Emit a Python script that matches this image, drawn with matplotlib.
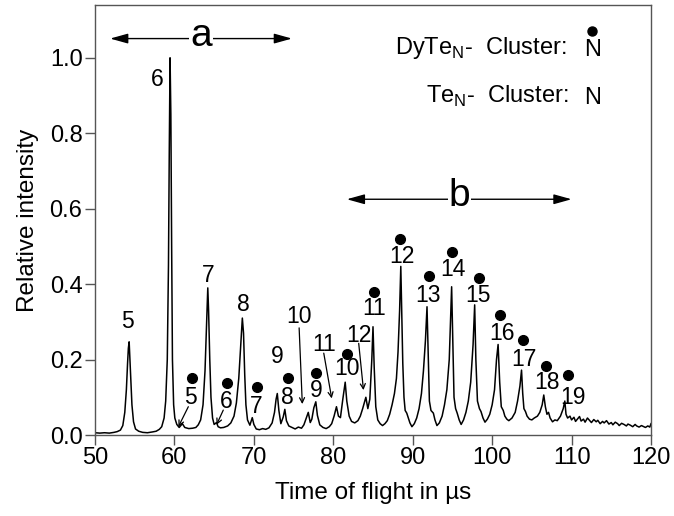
import matplotlib
matplotlib.use("Agg")
import matplotlib.pyplot as plt

plt.rcParams['font.family'] = ['Liberation Sans', 'DejaVu Sans']
plt.rcParams['mathtext.fontset'] = 'custom'
plt.rcParams['mathtext.rm'] = 'Liberation Sans'

# ---- spectrum trace ----
tof_us = [50.0, 50.6, 51.2, 51.8, 52.4, 52.8, 53.2, 53.5, 53.75, 53.95, 54.1, 54.2, 54.3, 54.4, 54.5, 54.65, 54.85, 55.1,
          55.5, 56.0, 56.6, 57.2, 57.7, 58.1, 58.4, 58.7, 58.9, 59.1, 59.25, 59.35, 59.45, 59.55, 59.65, 59.75,
          59.9, 60.05, 60.3, 60.6, 61.0, 61.3, 61.8, 62.3, 62.7, 63.0, 63.3, 63.6, 63.85, 64.05, 64.2, 64.3,
          64.45, 64.6, 64.8, 65.0, 65.3, 65.5, 65.8, 66.2, 66.7, 67.1, 67.5, 67.8, 68.1, 68.35, 68.55, 68.7,
          68.85, 69.0, 69.2, 69.5, 69.8, 70.0, 70.3, 70.7, 71.1, 71.5, 71.9, 72.3, 72.6, 72.8, 72.95, 73.15,
          73.4, 73.7, 73.9, 74.1, 74.4, 74.8, 75.2, 75.6, 76.0, 76.3, 76.6, 76.85, 77.1, 77.3, 77.55, 77.8,
          78.0, 78.3, 78.7, 79.1, 79.5, 79.8, 80.1, 80.4, 80.65, 80.9, 81.2, 81.5, 81.7, 82.0, 82.3, 82.7,
          83.1, 83.4, 83.7, 84.1, 84.35, 84.6, 84.85, 85.0, 85.15, 85.35, 85.6, 85.9, 86.2, 86.5, 86.8, 87.1,
          87.4, 87.7, 87.95, 88.15, 88.35, 88.5, 88.62, 88.75, 88.9, 89.05, 89.25, 89.45, 89.65, 89.9, 90.2,
          90.5, 90.8, 91.1, 91.35, 91.6, 91.8, 91.95, 92.1, 92.3, 92.6, 92.8, 93.05, 93.35, 93.7, 94.0, 94.3,
          94.6, 94.9, 95.05, 95.2, 95.4, 95.6, 95.85, 96.1, 96.4, 96.7, 97.0, 97.3, 97.6, 97.8, 97.95, 98.15,
          98.4, 98.6, 98.85, 99.1, 99.4, 99.7, 100.0, 100.3, 100.55, 100.75, 100.95, 101.15, 101.4, 101.6,
          101.85, 102.1, 102.5, 102.9, 103.2, 103.5, 103.7, 103.85, 104.0, 104.2, 104.4, 104.7, 105.0, 105.3,
          105.7, 106.0, 106.3, 106.5, 106.7, 106.9, 107.1, 107.3, 107.6, 107.9, 108.2, 108.6, 108.95, 109.15,
          109.3, 109.5, 109.8, 110.0, 110.3, 110.5, 110.8, 111.0, 111.2, 111.5, 111.7, 112.0, 112.3, 112.5,
          112.8, 113.1, 113.3, 113.6, 113.9, 114.1, 114.4, 114.7, 115.0, 115.2, 115.5, 115.8, 116.0, 116.3,
          116.6, 116.9, 117.1, 117.4, 117.7, 118.0, 118.2, 118.5, 118.8, 119.1, 119.3, 119.6, 119.85, 120.0]
intensity = [0.006, 0.005, 0.006, 0.005, 0.007, 0.009, 0.013, 0.025, 0.06, 0.12, 0.19, 0.23, 0.247, 0.2, 0.15, 0.08, 0.035, 0.016,
             0.01, 0.007, 0.006, 0.008, 0.01, 0.015, 0.022, 0.045, 0.09, 0.2, 0.45, 0.75, 1.0, 0.85, 0.5, 0.2,
             0.08, 0.045, 0.028, 0.02, 0.03, 0.02, 0.017, 0.018, 0.02, 0.027, 0.04, 0.08, 0.17, 0.3, 0.39, 0.33,
             0.2, 0.1, 0.045, 0.028, 0.033, 0.022, 0.019, 0.02, 0.024, 0.032, 0.05, 0.085, 0.15, 0.24, 0.31, 0.27,
             0.16, 0.08, 0.04, 0.026, 0.046, 0.028, 0.016, 0.014, 0.017, 0.015, 0.019, 0.032, 0.06, 0.095, 0.11, 0.065,
             0.03, 0.048, 0.068, 0.038, 0.024, 0.02, 0.016, 0.021, 0.018, 0.027, 0.045, 0.06, 0.033, 0.042, 0.072, 0.088,
             0.052, 0.027, 0.02, 0.017, 0.022, 0.03, 0.05, 0.075, 0.05, 0.046, 0.095, 0.14, 0.09, 0.05, 0.036, 0.032,
             0.038, 0.05, 0.07, 0.1, 0.07, 0.095, 0.2, 0.287, 0.18, 0.075, 0.04, 0.03, 0.025, 0.03, 0.038, 0.055,
             0.08, 0.11, 0.15, 0.22, 0.33, 0.447, 0.33, 0.19, 0.1, 0.065, 0.058, 0.045, 0.032, 0.022, 0.03,
             0.045, 0.07, 0.11, 0.17, 0.25, 0.34, 0.22, 0.09, 0.065, 0.058, 0.04, 0.025, 0.032, 0.05, 0.08, 0.12,
             0.2, 0.393, 0.24, 0.1, 0.07, 0.058, 0.04, 0.028, 0.04, 0.06, 0.09, 0.14, 0.24, 0.345, 0.2, 0.09,
             0.07, 0.062, 0.045, 0.034, 0.042, 0.055, 0.08, 0.12, 0.2, 0.24, 0.14, 0.075, 0.065, 0.05,
             0.042, 0.038, 0.045, 0.06, 0.09, 0.13, 0.172, 0.11, 0.07, 0.062, 0.05, 0.042, 0.04, 0.045,
             0.05, 0.06, 0.08, 0.106, 0.075, 0.055, 0.06, 0.045, 0.035, 0.04, 0.038, 0.05, 0.07, 0.09,
             0.055, 0.045, 0.05, 0.04, 0.047, 0.036, 0.044, 0.049, 0.037, 0.042, 0.034, 0.045, 0.038, 0.033,
             0.041, 0.035, 0.039, 0.03, 0.036, 0.032, 0.038, 0.029, 0.033, 0.027, 0.034, 0.03, 0.025, 0.031,
             0.028, 0.024, 0.029, 0.026, 0.022, 0.028, 0.024, 0.021, 0.025, 0.022, 0.02, 0.024, 0.021, 0.03]

# ---- Te_N cluster labels (no dot) ----
te_labels = ["5", "6", "7", "8", "9"]
te_label_x = [54.1, 57.8, 64.3, 68.7, 73.0]
te_label_y = [0.30, 0.943, 0.424, 0.345, 0.208]

# Te_N labels with arrows: label position and arrow tip
te_arrow_labels = ["10", "11", "12"]
te_arrow_text_x = [75.7, 78.8, 83.2]
te_arrow_text_y = [0.314, 0.24, 0.263]
te_arrow_start_y = [0.284, 0.217, 0.243]
te_arrow_tip_x = [76.1, 79.8, 83.8]
te_arrow_tip_y = [0.082, 0.097, 0.119]

# ---- DyTe_N cluster labels (with dot) ----
dy_labels = ["5", "6", "7", "8", "9", "10", "11", "12", "13", "14", "15", "16", "17", "18", "19"]
dy_label_x = [62.0, 66.5, 70.35, 74.25, 77.8, 81.7, 85.1, 88.6, 91.96, 95.1, 98.25, 101.2, 104.0, 106.9, 110.2]
dy_label_y = [0.100, 0.088, 0.075, 0.100, 0.117, 0.177, 0.336, 0.473, 0.371, 0.438, 0.371, 0.268, 0.199, 0.139, 0.100]
dy_dot_x = [62.2, 66.6, 70.4, 74.3, 77.85, 81.75, 85.1, 88.4, 92.0, 94.95, 98.3, 101.0, 103.9, 106.8, 109.6]
dy_dot_y = [0.152, 0.139, 0.128, 0.152, 0.165, 0.214, 0.378, 0.519, 0.422, 0.484, 0.417, 0.318, 0.252, 0.184, 0.159]
# DyTe5 / DyTe6 arrows
dy_arrow_start = [(61.75, 0.075), (66.15, 0.066)]
dy_arrow_tip = [(60.5, 0.022), (65.3, 0.027)]

# ---- range markers a / b ----
range_names = ["a", "b"]
range_start = [51.9, 81.7]
range_end = [74.8, 110.0]
range_y = [1.051, 0.625]

fig = plt.figure(figsize=(6.74, 5.16), dpi=100)
ax = fig.add_axes([95/674, 1-435/516, 556/674, 430/516])

ax.plot(tof_us, intensity, color='black', lw=1.1)

ax.set_xlim(50, 120)
ax.set_ylim(0, 1.14)
ax.set_xticks([50, 60, 70, 80, 90, 100, 110, 120])
ax.set_yticks([0.0, 0.2, 0.4, 0.6, 0.8, 1.0])
ax.set_yticklabels(["0.0", "0.2", "0.4", "0.6", "0.8", "1.0"])
for s in ax.spines.values():
    s.set_color('#555555')
    s.set_linewidth(1.0)
ax.tick_params(direction='out', length=7, width=1.0, color='#555555', labelsize=17, pad=2)
ax.set_xlabel("Time of flight in µs", fontsize=17.5, labelpad=9)
ax.set_ylabel("Relative intensity", fontsize=17.5, labelpad=8)

lab_fs = 16.5
for lab, x, y in zip(te_labels, te_label_x, te_label_y):
    ax.text(x, y, lab, ha='center', va='center', fontsize=lab_fs)
for lab, x, y, sy, tx, ty in zip(te_arrow_labels, te_arrow_text_x, te_arrow_text_y,
                                 te_arrow_start_y, te_arrow_tip_x, te_arrow_tip_y):
    ax.text(x, y, lab, ha='center', va='center', fontsize=lab_fs)
    ax.annotate("", xy=(tx, ty), xytext=(x, sy),
                arrowprops=dict(arrowstyle='->', lw=0.9, color='black', shrinkA=0, shrinkB=0,
                                mutation_scale=9))
for lab, x, y in zip(dy_labels, dy_label_x, dy_label_y):
    ax.text(x, y, lab, ha='center', va='center', fontsize=lab_fs)
ax.plot(dy_dot_x, dy_dot_y, 'o', color='black', markersize=7, linestyle='none')
for (sx, sy), (tx, ty) in zip(dy_arrow_start, dy_arrow_tip):
    ax.annotate("", xy=(tx, ty), xytext=(sx, sy),
                arrowprops=dict(arrowstyle='->', lw=0.9, color='black', shrinkA=0, shrinkB=0,
                                mutation_scale=9))

for name, x0, x1, y in zip(range_names, range_start, range_end, range_y):
    ax.annotate("", xy=(x1, y), xytext=(x0, y),
                arrowprops=dict(arrowstyle='<|-|>,head_length=0.9,head_width=0.25', lw=1.0,
                                color='black', shrinkA=0, shrinkB=0, mutation_scale=12))
    ax.text((x0 + x1) / 2, y + 0.008, name, ha='center', va='center', fontsize=28,
            bbox=dict(facecolor='white', edgecolor='none', pad=0.5))

# legend-like annotation
ax.text(109.4, 1.026, r"DyTe$_\mathregular{N}$-  Cluster:", ha='right', va='center', fontsize=17)
ax.text(112.6, 1.022, "N", ha='center', va='center', fontsize=17)
ax.plot([112.6], [1.07], 'o', color='black', markersize=6.5)
ax.text(109.6, 0.897, r"Te$_\mathregular{N}$-  Cluster:", ha='right', va='center', fontsize=17)
ax.text(112.6, 0.893, "N", ha='center', va='center', fontsize=17)

fig.savefig("out.png", dpi=100)
